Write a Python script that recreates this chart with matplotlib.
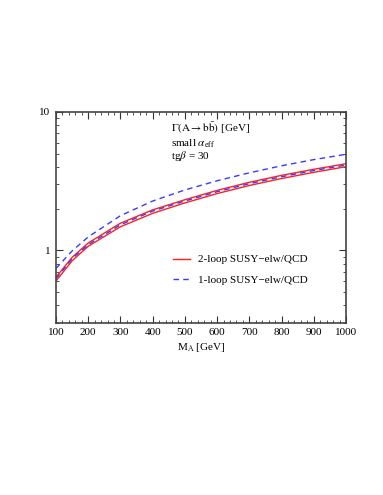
import matplotlib
matplotlib.use("Agg")
import matplotlib.pyplot as plt
import numpy as np
from matplotlib.ticker import MultipleLocator, LogLocator, NullFormatter, FixedLocator, FixedFormatter

plt.rcParams['font.family'] = ['Liberation Serif', 'DejaVu Serif']
plt.rcParams['mathtext.fontset'] = 'stix'

# M_A [GeV] and widths [GeV]
m_a = [100, 150, 200, 300, 400, 500, 600, 700, 800, 900, 1000]
two_loop_hi = [0.64, 0.89, 1.13, 1.57, 1.96, 2.32, 2.71, 3.10, 3.48, 3.85, 4.22]
two_loop_lo = [0.60, 0.84, 1.07, 1.48, 1.85, 2.20, 2.57, 2.94, 3.30, 3.66, 4.02]
one_loop_lo = [0.625, 0.87, 1.10, 1.53, 1.92, 2.27, 2.65, 3.03, 3.40, 3.77, 4.13]
one_loop_hi = [0.74, 0.99, 1.25, 1.78, 2.27, 2.73, 3.18, 3.63, 4.08, 4.52, 4.94]

red = '#ff2020'
blue = '#3a3aff'

fig = plt.figure(figsize=(3.83, 4.95), dpi=100)
ax = fig.add_axes([0.1462, 0.348, 0.7572, 0.426])

l2, = ax.plot(m_a, two_loop_hi, color=red, lw=1.0)
ax.plot(m_a, two_loop_lo, color=red, lw=1.0)
ax.plot(m_a, one_loop_lo, color=blue, lw=1.0, ls=(0, (4, 3)))
l1, = ax.plot(m_a, one_loop_hi, color=blue, lw=1.0, ls=(0, (4, 3)))

ax.set_yscale('log')
ax.set_xlim(100, 1000)
ax.set_ylim(0.3, 10)

ax.xaxis.set_major_locator(MultipleLocator(100))
ax.xaxis.set_minor_locator(MultipleLocator(20))
ax.yaxis.set_major_locator(FixedLocator([1, 10]))
ax.yaxis.set_major_formatter(FixedFormatter(['1', '10']))
ax.yaxis.set_minor_locator(LogLocator(base=10, subs=np.arange(2, 10)))
ax.yaxis.set_minor_formatter(NullFormatter())

ax.tick_params(which='both', direction='in', top=True, right=True, labelsize=8, color='#333333')
ax.tick_params(which='major', length=5, width=0.8, pad=4)
ax.tick_params(which='minor', length=2.5, width=0.6)
for s in ax.spines.values():
    s.set_linewidth(1.2)
    s.set_color('#444444')

ax.set_xlabel(r'M$_{\rm A}$ [GeV]', fontsize=8, labelpad=3)

ax.text(0.395, 0.905, r'$\Gamma(\mathrm{A} \rightarrow \mathrm{b\bar{b}})$ [GeV]', transform=ax.transAxes,
        fontsize=8)
ax.text(0.395, 0.838, r'small $\alpha_{\rm eff}$', transform=ax.transAxes, fontsize=8)
ax.text(0.395, 0.778, r'tg$\beta$ = 30', transform=ax.transAxes, fontsize=8)

ax.legend([l2, l1], ['2-loop SUSY\u2212elw/QCD', '1-loop SUSY\u2212elw/QCD'], frameon=False,
          loc='upper left', bbox_to_anchor=(0.37, 0.37), fontsize=8, handlelength=1.5,
          handletextpad=0.7, labelspacing=1.0)

fig.savefig('out.png', dpi=100)
